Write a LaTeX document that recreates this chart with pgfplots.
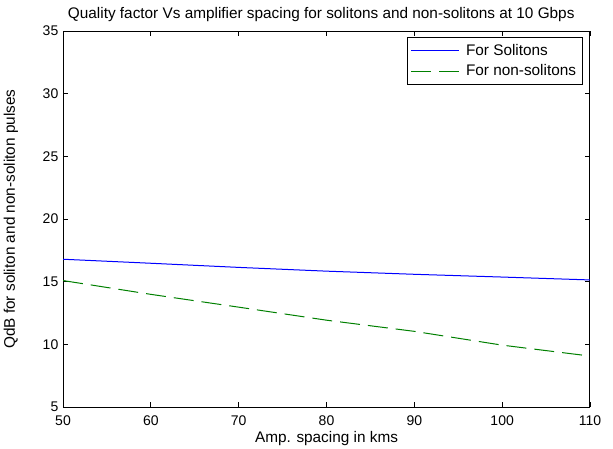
\documentclass[border=0pt]{standalone}
\usepackage{fontspec}
\setmainfont{Liberation Sans}
\usepackage{pgfplots}
\pgfplotsset{compat=1.18}

\definecolor{mblue}{RGB}{0,0,255}
\definecolor{mgreen}{RGB}{0,128,0}

\begin{document}
\begin{tikzpicture}
\begin{axis}[
    scale only axis,
    width=395pt, height=282pt,
    xmin=50, xmax=110, ymin=5, ymax=35,
    xtick={50,60,...,110}, ytick={5,10,...,35},
    tick align=inside,
    major tick length=4pt,
    axis line style={line width=0.75pt},
    tick style={line width=0.6pt, black},
    tick label style={font=\fontsize{10.5}{12}\selectfont},
    xticklabel style={yshift=-2.5pt},
    /pgf/number format/assume math mode=true,
    label style={font=\fontsize{11.5}{13}\selectfont},
    title={Quality factor Vs amplifier spacing for solitons and non-solitons at 10 Gbps},
    title style={font=\fontsize{11.5}{13}\selectfont,
        at={(axis description cs:0.49,1.022)}, anchor=center},
    xlabel={Amp. spacing in kms},
    ylabel={QdB for soliton and non-soliton pulses},
    xlabel style={at={(axis description cs:0.5,-0.082)}, anchor=center},
    ylabel style={at={(axis description cs:-0.099,0.5)}, anchor=center},
    legend style={at={(rel axis cs:0.987,0.984)}, anchor=north east,
        draw=black, line width=0.6pt, cells={anchor=west},
        font=\fontsize{11.5}{13}\selectfont, inner xsep=3pt, inner ysep=3pt,
        row sep=1.5pt, column sep=3pt},
    legend image code/.code={\draw[#1] (0cm,0cm) -- (1.25cm,0cm);},
]
\addplot[mblue, line width=0.75pt] coordinates {
    (50,16.80) (60,16.48) (70,16.15) (80,15.85) (90,15.60) (100,15.38) (110,15.15)
};
\addlegendentry{For Solitons}
\addplot[mgreen, line width=0.75pt, dash pattern=on 15pt off 6pt] coordinates {
    (50,15.10) (60,14.00) (70,12.98) (80,11.94) (90,11.05) (100,9.95) (110,9.08)
};
\addlegendentry{For non-solitons}
\end{axis}
\pgfresetboundingbox
\path (-47.25pt,-30.75pt) rectangle (412.25pt,305.25pt);
\end{tikzpicture}
\end{document}
